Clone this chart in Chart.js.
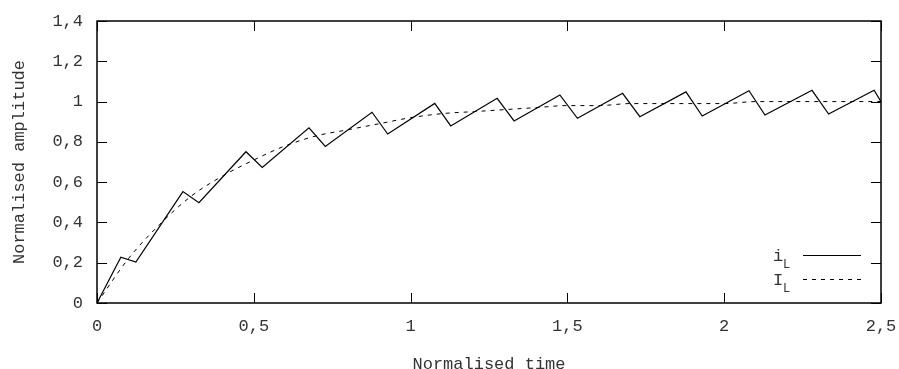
<!DOCTYPE html>
<html>
<head>
<meta charset="utf-8">
<script src="https://cdn.jsdelivr.net/npm/chart.js@4/dist/chart.umd.min.js"></script>
<style>
  html, body { margin: 0; padding: 0; background: #fff; }
</style>
</head>
<body>
<canvas id="chart" width="899" height="369"></canvas>
<script>
'use strict';

// i_L : corners of the ripple
const rippleTime = [0, 0.076, 0.124, 0.274, 0.325, 0.475, 0.527, 0.676, 0.728, 0.877, 0.927,
  1.077, 1.128, 1.276, 1.330, 1.476, 1.532, 1.676, 1.731, 1.878, 1.930,
  2.079, 2.130, 2.280, 2.333, 2.478, 2.5];
const rippleAmp = [0, 0.227, 0.203, 0.553, 0.498, 0.751, 0.673, 0.870, 0.777, 0.947, 0.839,
  0.991, 0.879, 1.016, 0.904, 1.033, 0.917, 1.041, 0.925, 1.048, 0.928,
  1.054, 0.933, 1.056, 0.938, 1.056, 0.999];

// I_L : average curve
const avgTime = [0, 0.1, 0.2, 0.3, 0.4, 0.5, 0.6, 0.7, 0.8, 0.9, 1.0, 1.1, 1.2, 1.3,
  1.4, 1.5, 1.6, 1.7, 1.8, 1.9, 2.0, 2.1, 2.2, 2.3, 2.4, 2.5];
const avgAmp = [0, 0.22, 0.39, 0.53, 0.63, 0.71, 0.78, 0.83, 0.86, 0.89, 0.92, 0.94, 0.95, 0.96,
  0.97, 0.98, 0.98, 0.99, 0.99, 0.99, 0.99, 1.0, 1.0, 1.0, 1.0, 1.0];

const xLabel = 'Normalised time';
const yLabel = 'Normalised amplitude';
const seriesNames = ['i', 'I'];   // both with subscript L

const FONT = '"Liberation Mono", "DejaVu Sans Mono", monospace';
const TEXT = '#333';

function toPoints(xs, ys) {
  return xs.map((v, i) => ({ x: v, y: ys[i] }));
}

function commaNum(v) {
  return String(Math.round(v * 10) / 10).replace('.', ',');
}

// gnuplot style: frame, inward ticks on every side, key at lower right
const gnuFrame = {
  id: 'gnuFrame',
  afterDatasetsDraw(chart) {
    const { ctx, chartArea: a, scales: { x, y } } = chart;
    ctx.save();
    ctx.strokeStyle = '#000';
    ctx.lineWidth = 1;
    ctx.beginPath();
    for (const t of x.ticks) {
      const px = Math.round(x.getPixelForValue(t.value)) + 0.5;
      ctx.moveTo(px, a.bottom); ctx.lineTo(px, a.bottom - 10);
      ctx.moveTo(px, a.top); ctx.lineTo(px, a.top + 10);
    }
    for (const t of y.ticks) {
      const py = Math.round(y.getPixelForValue(t.value)) + 0.5;
      ctx.moveTo(a.left, py); ctx.lineTo(a.left + 10, py);
      ctx.moveTo(a.right, py); ctx.lineTo(a.right - 10, py);
    }
    ctx.stroke();
    ctx.lineWidth = 1.5;
    ctx.strokeRect(a.left, a.top, a.right - a.left, a.bottom - a.top);

    // key
    const rows = [
      { y: 261, dash: [] },
      { y: 285, dash: [4, 5] }
    ];
    ctx.fillStyle = TEXT;
    ctx.textBaseline = 'alphabetic';
    ctx.textAlign = 'left';
    rows.forEach((r, i) => {
      ctx.font = '17px ' + FONT;
      ctx.fillText(seriesNames[i], 773, r.y);
      ctx.font = '12px ' + FONT;
      ctx.fillText('L', 783, r.y + 7);
      ctx.setLineDash(r.dash);
      ctx.lineWidth = 1.2;
      ctx.beginPath();
      ctx.moveTo(803, r.y - 5.5);
      ctx.lineTo(861, r.y - 5.5);
      ctx.stroke();
    });
    ctx.restore();
  }
};

new Chart(document.getElementById('chart'), {
  type: 'line',
  data: {
    datasets: [{
      label: 'iL',
      data: toPoints(rippleTime, rippleAmp),
      borderColor: '#000',
      borderWidth: 1.2,
      pointRadius: 0,
      tension: 0
    }, {
      label: 'IL',
      data: toPoints(avgTime, avgAmp),
      borderColor: '#000',
      borderWidth: 1,
      borderDash: [4, 5],
      pointRadius: 0,
      cubicInterpolationMode: 'monotone'
    }]
  },
  options: {
    responsive: false,
    animation: false,
    layout: { padding: { left: 0, top: 21, right: 18, bottom: 0 } },
    plugins: { legend: { display: false }, tooltip: { enabled: false } },
    scales: {
      x: {
        type: 'linear',
        min: 0,
        max: 2.5,
        afterFit: s => { s.height = 66; s.paddingLeft = 0; s.paddingRight = 0; },
        grid: { display: false, drawTicks: false },
        border: { display: false },
        ticks: {
          stepSize: 0.5,
          padding: 13,
          color: TEXT,
          font: { family: FONT, size: 17 },
          maxRotation: 0,
          callback: v => commaNum(v)
        },
        title: {
          display: true,
          text: xLabel,
          color: TEXT,
          font: { family: FONT, size: 17 },
          padding: { top: 0, bottom: -6 }
        }
      },
      y: {
        min: 0,
        max: 1.4,
        afterFit: s => { s.width = 97; s.paddingTop = 0; s.paddingBottom = 0; },
        grid: { display: false, drawTicks: false },
        border: { display: false },
        ticks: {
          stepSize: 0.2,
          padding: 14,
          color: TEXT,
          font: { family: FONT, size: 17 },
          callback: v => commaNum(v)
        },
        title: {
          display: true,
          text: yLabel,
          color: TEXT,
          font: { family: FONT, size: 17 },
          padding: { top: 9, bottom: 0 }
        }
      }
    }
  },
  plugins: [gnuFrame]
});
</script>
</body>
</html>
